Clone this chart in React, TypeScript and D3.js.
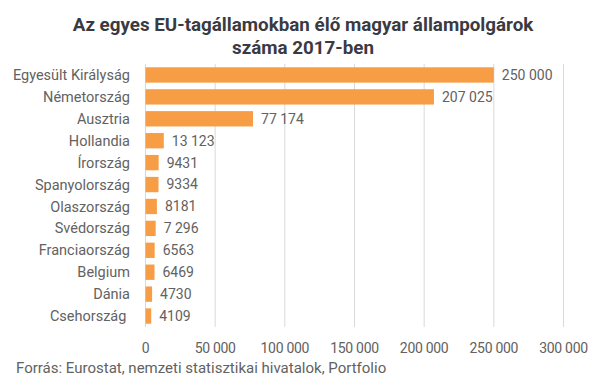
import React from "react";
import * as d3 from "d3";

const categories = ["Egyesült Királyság", "Németország", "Ausztria", "Hollandia", "Írország", "Spanyolország", "Olaszország", "Svédország", "Franciaország", "Belgium", "Dánia", "Csehország "];
const values = [250000, 207025, 77174, 13123, 9431, 9334, 8181, 7296, 6563, 6469, 4730, 4109];
const valueLabels = ["250 000", "207 025", "77 174", "13 123", "9431", "9334", "8181", "7 296", "6563", "6469", "4730", "4109"];
const ticks = [0, 50000, 100000, 150000, 200000, 250000, 300000];
const tickLabels = ["0", "50 000", "100 000", "150 000", "200 000", "250 000", "300 000"];

export default function App() {
  const W = 605, H = 378;
  const x = d3.scaleLinear().domain([0, 300000]).range([145.5, 563.5]);
  const y = d3.scaleBand().domain(categories).range([64, 327]).paddingInner(0.3).paddingOuter(0.15);
  const font = "Roboto, 'Noto Sans', sans-serif";
  const grey = "#626262";
  return (
    <svg width={W} height={H} style={{ position: "absolute", left: 0, top: 0, background: "#fff" }}>
      <text x={303} y={31} textAnchor="middle" fontFamily={font} fontWeight="bold" fontSize={18.8} fill="#3a3a42">Az egyes EU-tagállamokban élő magyar állampolgárok</text>
      <text x={303} y={54} textAnchor="middle" fontFamily={font} fontWeight="bold" fontSize={18.8} fill="#3a3a42">száma 2017-ben</text>
      {ticks.map((t) => (
        <line key={t} x1={x(t)} x2={x(t)} y1={64} y2={327} stroke="#d9d9d9" strokeWidth={1} />
      ))}
      {categories.map((c, i) => (
        <g key={c}>
          <rect x={x(0)} y={y(c)!} width={x(values[i]) - x(0)} height={y.bandwidth()} fill="#F79D45" />
          <text x={130} y={y(c)! + y.bandwidth() / 2} dy="0.35em" textAnchor="end" fontFamily={font} fontSize={14.5} fill={grey} style={{ whiteSpace: "pre" }}>{c}</text>
          <text x={x(values[i]) + 8} y={y(c)! + y.bandwidth() / 2} dy="0.35em" fontFamily={font} fontSize={14} fill={grey}>{valueLabels[i]}</text>
        </g>
      ))}
      {ticks.map((t, i) => (
        <text key={t} x={x(t)} y={353} textAnchor="middle" fontFamily={font} fontSize={14} fill={grey} letterSpacing={-0.3}>{tickLabels[i]}</text>
      ))}
      <text x={16} y={373} fontFamily={font} fontSize={15} fill={grey}>Forrás: Eurostat, nemzeti statisztikai hivatalok, Portfolio</text>
    </svg>
  );
}
